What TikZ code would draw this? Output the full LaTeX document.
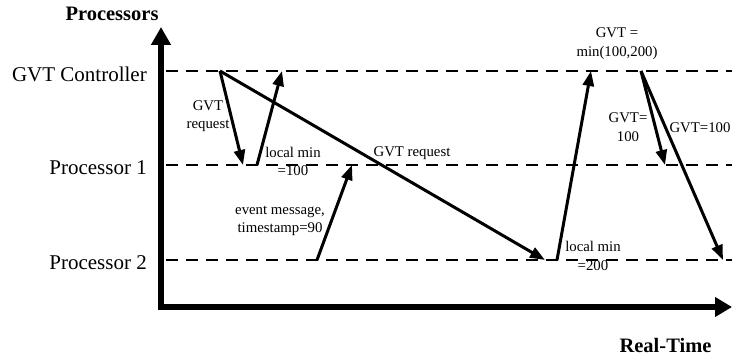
\documentclass[tikz,border=0pt]{standalone}
\usepackage{fontspec}
\setmainfont{Liberation Serif}
\usetikzlibrary{arrows.meta}
\begin{document}
\begin{tikzpicture}[x=1pt,y=-1pt,
  axis/.style={line width=5.5pt, line join=miter,
    {Triangle[length=18pt,width=19pt]}-{Triangle[length=17pt,width=19pt]}},
  lane/.style={line width=1.8pt, dash pattern=on 12pt off 8pt},
  msg/.style={line width=3pt, -{Triangle[length=15pt,width=11pt]}},
  lanelabel/.style={font=\fontsize{21}{24}\selectfont, anchor=east, inner sep=0},
  axislabel/.style={font=\bfseries\fontsize{20.5}{24}\selectfont, inner sep=0},
  note/.style={font=\fontsize{14.8}{18.5}\selectfont, align=center, inner sep=0}]
\useasboundingbox (0,0) rectangle (732,358);

% axes
\coordinate (ytop) at (161,27);
\coordinate (origin) at (161,307);
\coordinate (xend) at (732,307);
\draw[axis] (ytop) -- (origin) -- (xend);
\node[axislabel] (ylab) at (112,14) {Processors};
\node[axislabel] (xlab) at (665.5,345.5) {Real-Time};

% processor lanes
\foreach \name/\y/\txt in {ctrl/71/GVT Controller, pone/165/Processor 1, ptwo/260/Processor 2}{
  \coordinate (\name-l) at (166,\y);
  \coordinate (\name-r) at (732,\y);
  \draw[lane] (\name-l) -- (\name-r);
  \node[lanelabel] (\name-lab) at (147,\y+3) {\txt};
}

% message events
\coordinate (a) at (220,71);
\coordinate (b) at (243,165);
\coordinate (c) at (257,165);
\coordinate (d) at (282,71);
\coordinate (e) at (545,260);
\coordinate (f) at (557,260);
\coordinate (g) at (591,71);
\coordinate (h) at (317,260);
\coordinate (i) at (352,165);
\coordinate (j) at (641,71);
\coordinate (k) at (665,165);
\coordinate (l) at (723,260);

\draw[msg] (a) -- (b);
\draw[msg] (c) -- (d);
\draw[msg] (a) -- (e);
\draw[msg] (f) -- (g);
\draw[msg] (h) -- (i);
\draw[msg] (j) -- (k);
\draw[msg] (j) -- (l);

% labels
\node[note] (n1) at (208,116) {GVT\\request};
\node[note] (n2) at (293,161.5) {local min\\=100};
\node[note] (n3) at (412,153) {GVT request};
\node[note] (n4) at (280,221) {event message,\\timestamp=90};
\node[note] (n5) at (593,256) {local min\\=200};
\node[note] (n6) at (617,43.5) {GVT =\\min(100,200)};
\node[note] (n7) at (628,127) {GVT=\\100};
\node[note] (n8) at (700,128) {GVT=100};
\end{tikzpicture}
\end{document}
